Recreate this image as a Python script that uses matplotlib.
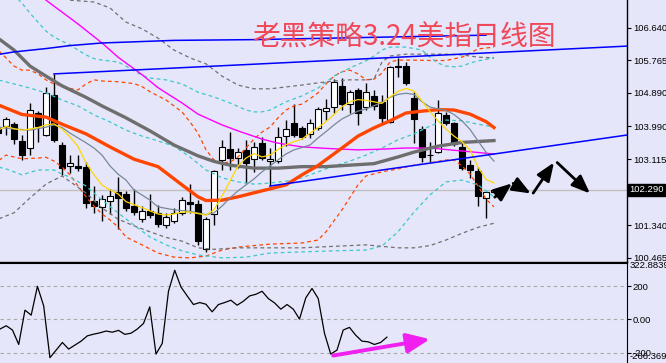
import matplotlib.pyplot as plt
import matplotlib.transforms as mtransforms
import numpy as np

plt.rcParams['font.family'] = ['Liberation Sans', 'DejaVu Sans']

# ---- daily candles, bar index -1 .. 61 ----
bars = np.arange(-1, 62)
opens = [103.97, 104.01, 104.05, 103.60, 103.42, 104.34, 103.76, 104.83, 103.49, 102.94,
         102.93, 102.91, 101.99, 101.82, 102.00, 102.22, 102.17, 101.84, 101.50, 101.72,
         101.67, 101.33, 101.46, 101.67, 101.97, 101.91, 100.69, 101.64, 103.09, 103.38,
         103.13, 103.36, 103.12, 103.54, 103.06, 103.06, 103.74, 104.07, 103.94, 103.78,
         103.94, 104.40, 104.52, 105.08, 104.58, 104.97, 104.52, 104.81, 104.65, 104.12,
         105.61, 105.61, 104.75, 103.92, 103.22, 103.31, 104.30, 104.07, 103.45, 102.95,
         102.79, 102.06, 102.23]
highs = [104.03, 104.25, 104.12, 103.76, 104.63, 104.40, 105.06, 105.40, 103.58, 103.22,
         103.22, 103.04, 102.39, 102.15, 102.31, 102.62, 102.26, 102.30, 101.84, 102.17,
         101.88, 101.66, 101.79, 102.10, 102.44, 102.01, 101.57, 102.82, 103.63, 103.85,
         103.40, 103.63, 103.58, 103.71, 103.40, 103.98, 104.16, 104.58, 104.00, 104.18,
         104.52, 104.72, 105.26, 105.28, 104.97, 105.01, 105.15, 104.97, 104.83, 105.61,
         105.82, 105.73, 104.92, 104.00, 103.58, 104.70, 104.39, 104.12, 103.54, 103.09,
         102.91, 102.24, 102.31]
lows = [103.55, 103.76, 103.51, 103.09, 103.22, 103.56, 103.73, 103.58, 102.69, 102.73,
        102.79, 101.79, 101.67, 101.46, 101.64, 101.23, 101.72, 101.61, 101.43, 101.52,
        101.30, 101.25, 101.39, 101.61, 101.66, 100.81, 100.63, 101.34, 102.82, 102.82,
        102.87, 102.48, 102.77, 103.09, 102.39, 103.02, 103.46, 103.71, 103.64, 103.67,
        103.89, 104.16, 104.34, 104.43, 104.34, 104.03, 104.43, 104.43, 104.09, 104.07,
        105.32, 105.10, 103.55, 103.04, 103.04, 103.28, 104.03, 103.46, 102.82, 102.60,
        101.84, 101.52, 102.20]
closes = [103.81, 104.18, 103.65, 103.22, 104.43, 104.01, 104.88, 103.63, 102.87, 103.00,
          102.88, 101.94, 101.86, 102.03, 102.12, 102.06, 101.79, 101.70, 101.72, 101.61,
          101.37, 101.55, 101.67, 102.01, 101.90, 100.90, 101.50, 102.80, 103.45, 103.13,
          103.30, 103.02, 103.43, 103.13, 103.12, 103.70, 103.91, 103.76, 103.71, 104.07,
          104.45, 104.48, 105.17, 104.58, 104.91, 104.34, 104.91, 104.55, 104.21, 105.59,
          105.58, 105.15, 104.19, 103.18, 103.21, 104.36, 104.07, 103.52, 102.87, 102.82,
          102.13, 102.22, 102.29]
last_price = 102.29

# ---- moving averages ----
ma_yellow = [103.89, 103.99, 103.93, 103.89, 103.92, 103.96, 104.03, 104.06, 103.92, 103.71,
             103.45, 103.01, 102.69, 102.42, 102.28, 102.18, 101.97, 101.89, 101.81, 101.72,
             101.64, 101.61, 101.64, 101.69, 101.69, 101.65, 101.61, 101.75, 102.12, 102.52,
             102.93, 103.14, 103.26, 103.17, 103.22, 103.37, 103.50, 103.58, 103.65, 103.81,
             103.95, 104.12, 104.31, 104.52, 104.65, 104.71, 104.69, 104.65, 104.61, 104.78,
             104.93, 105.01, 104.94, 104.67, 104.39, 104.14, 103.92, 103.73, 103.58, 103.36,
             102.90, 102.57, 102.47]

slate_idx = [-1, 1, 3, 5, 6, 7, 8, 9, 10, 11, 12, 13, 14, 15, 16, 17, 18, 19, 21, 23, 25, 26,
             27, 28, 29, 30, 31, 32, 33, 34, 35, 36, 38, 39, 40, 41, 42, 43, 44, 45, 47, 48,
             49, 50, 51, 52, 53, 54, 55, 56, 57, 58, 59, 60, 61]
ma_slate = [103.97, 103.92, 103.89, 103.97, 104.03, 103.96, 103.81, 103.68, 103.55, 103.41,
            103.22, 102.93, 102.71, 102.55, 102.28, 102.15, 102.01, 101.83, 101.75, 101.71,
            101.62, 101.67, 101.85, 102.07, 102.26, 102.42, 102.58, 102.77, 102.93, 103.09,
            103.25, 103.36, 103.49, 103.68, 103.85, 104.03, 104.19, 104.30, 104.40, 104.46,
            104.63, 104.77, 104.85, 104.88, 104.85, 104.65, 104.51, 104.46, 104.42, 104.31,
            104.14, 103.91, 103.60, 103.30, 103.06]

orange_idx = [-1, 2, 5, 7, 10, 13, 16, 19, 22, 24, 25, 27, 29, 32, 35, 37, 39, 42, 44, 46,
              48, 50, 52, 54, 56, 58, 60, 61]
ma_orange = [104.57, 104.31, 104.24, 104.05, 103.79, 103.44, 103.11, 102.91, 102.42, 102.10,
             102.00, 102.01, 102.10, 102.26, 102.42, 102.69, 102.94, 103.41, 103.73, 103.95,
             104.14, 104.35, 104.40, 104.44, 104.43, 104.32, 104.12, 103.96]

gray_idx = [-1, 1, 3, 5, 7, 10, 12, 15, 18, 21, 24, 26, 28, 31, 34, 37, 40, 43, 46, 49, 51,
            54, 57, 61]
ma_gray = [106.36, 106.04, 105.61, 105.34, 105.08, 104.77, 104.54, 104.22, 103.87, 103.49,
           103.20, 103.05, 102.95, 102.87, 102.87, 102.91, 102.91, 102.95, 102.99, 103.17,
           103.30, 103.46, 103.56, 103.61]

magenta_idx = [4, 5, 9, 12, 14, 17, 19, 22, 24, 27, 29, 32, 34, 37, 40, 44, 47, 50, 53, 56,
               59, 61]
ma_magenta = [107.60, 107.38, 106.74, 106.23, 105.85, 105.38, 105.03, 104.62, 104.32, 104.03,
              103.87, 103.65, 103.54, 103.44, 103.40, 103.36, 103.38, 103.41, 103.41, 103.35,
              103.29, 103.25]

# ---- bands ----
o_up_idx = [-1, 0, 1, 2, 3, 4, 5, 6, 7, 8, 9, 10, 11, 12, 14, 16, 17, 18, 19, 20, 21, 22,
            23, 24, 25, 26, 27, 28, 29, 30, 31, 32, 33, 34, 35, 36, 37, 38, 39, 40, 41, 42,
            43, 44, 45, 46, 47, 48, 49, 51, 53, 55, 57, 58, 59, 61]
band_o_up = [106.04, 105.83, 105.61, 105.50, 105.50, 105.40, 105.24, 105.13, 105.08, 105.01,
             104.97, 105.13, 105.24, 105.21, 105.19, 105.14, 105.06, 104.92, 104.81, 104.70,
             104.54, 104.38, 104.11, 103.81, 103.36, 103.09, 103.01, 103.03, 103.17, 103.41,
             103.65, 103.84, 103.97, 104.22, 104.43, 104.54, 104.59, 104.73, 104.89, 105.13,
             105.34, 105.46, 105.50, 105.40, 105.24, 105.26, 105.42, 105.72, 105.77, 105.77,
             105.76, 105.76, 105.85, 105.96, 106.07, 106.12]
o_lo_idx = [-1, 0, 2, 4, 5, 6, 7, 8, 9, 10, 11, 12, 13, 14, 15, 17, 19, 21, 23, 25, 27, 29,
            33, 37, 39, 40, 42, 44, 45, 47, 49, 51, 53, 55, 56, 57, 58, 59, 60, 61]
band_o_lo = [103.06, 103.22, 103.12, 103.14, 103.16, 103.06, 102.90, 102.69, 102.39, 102.10,
             101.85, 101.64, 101.48, 101.29, 101.02, 100.81, 100.59, 100.48, 100.46, 100.51,
             100.67, 100.75, 100.83, 100.86, 100.94, 101.16, 101.75, 102.42, 102.66, 102.77,
             102.85, 102.95, 103.01, 103.09, 103.09, 102.93, 102.71, 102.39, 102.04, 101.83]

c_up_idx = [1, 2, 3, 4, 5, 6, 7, 8, 9, 10, 11, 12, 14, 15, 17, 18, 20, 22, 24, 26, 28, 30,
            31, 32, 33, 35, 37, 39, 41, 43, 45, 46, 47, 48, 50, 52, 53, 54, 55, 56, 57, 58,
            59, 61]
band_c_up = [107.52, 107.30, 107.03, 106.79, 106.55, 106.39, 106.28, 106.18, 106.04, 105.91,
             105.81, 105.77, 105.72, 105.61, 105.36, 105.29, 105.24, 105.13, 104.91, 104.78,
             104.62, 104.43, 104.38, 104.38, 104.43, 104.65, 104.81, 105.02, 105.34, 105.56,
             105.75, 105.88, 106.04, 106.12, 106.12, 106.04, 105.85, 105.69, 105.61, 105.59,
             105.61, 105.69, 105.75, 105.83]
c_mid_idx = [-1, 1, 3, 5, 7, 9, 11, 13, 15, 17, 19, 21, 23, 25, 27, 29, 31, 33, 35, 37, 39,
             41, 43, 45, 47, 49, 51, 53, 55, 57, 59, 61]
band_c_mid = [105.24, 105.13, 105.02, 104.89, 104.70, 104.54, 104.30, 104.11, 103.89, 103.73,
              103.60, 103.46, 103.17, 102.82, 102.61, 102.50, 102.44, 102.47, 102.52, 102.61,
              102.77, 102.93, 103.06, 103.22, 103.41, 103.63, 103.79, 104.00, 104.16, 104.14,
              104.05, 103.97]
c_lo_idx = [-1, 0, 2, 4, 6, 7, 8, 10, 12, 14, 16, 18, 20, 22, 24, 27, 30, 33, 37, 41, 45,
            47, 49, 51, 53, 55, 57, 59, 61]
band_c_lo = [102.90, 102.85, 102.69, 102.82, 102.82, 102.71, 102.63, 102.39, 102.01, 101.67,
             101.34, 101.02, 100.81, 100.65, 100.54, 100.46, 100.48, 100.59, 100.62, 100.65,
             100.67, 100.78, 101.16, 101.69, 102.15, 102.50, 102.55, 102.42, 102.10]

g_up_idx = [8, 11, 13, 15, 17, 19, 21, 23, 25, 27, 29, 31, 33, 35, 37, 39, 41, 43, 45, 46,
            47, 48, 50, 53, 55, 57, 59, 61]
band_g_up = [107.38, 107.33, 107.17, 106.79, 106.61, 106.36, 106.04, 105.83, 105.67, 105.34,
             105.10, 105.00, 105.00, 105.05, 105.10, 105.16, 105.21, 105.24, 105.24, 105.26,
             105.72, 105.88, 105.93, 105.93, 105.93, 105.91, 105.85, 105.83]
g_lo_idx = [-1, 1, 3, 5, 7, 8, 10, 12, 14, 16, 18, 20, 22, 24, 26, 29, 33, 37, 41, 45, 49,
            51, 53, 55, 57, 59, 61]
band_g_lo = [101.50, 101.67, 102.07, 102.44, 102.66, 102.51, 102.20, 101.80, 101.50, 101.32,
             101.16, 101.01, 100.91, 100.73, 100.69, 100.73, 100.73, 100.73, 100.77, 100.81,
             100.73, 100.73, 100.79, 100.94, 101.12, 101.28, 101.39]

# ---- trend lines (bar index, price) ----
blue_a_idx = [-1, 1, 5, 8, 12, 21, 31, 60]
blue_a = [105.92, 105.99, 106.08, 106.16, 106.23, 106.30, 106.32, 106.44]
blue_b_idx = [6, 78]
blue_b = [105.40, 106.15]
blue_c_idx = [33, 78]
blue_c = [102.39, 103.77]

# forecast arrows: (tail bar, tail price, tip bar, tip price)
arrows = [(61.1, 102.09, 63.25, 102.46),
          (63.4, 102.46, 65.6, 102.19),
          (65.9, 102.20, 68.5, 103.02),
          (68.9, 103.02, 73.0, 102.19)]

price_ticks = [106.640, 105.765, 104.890, 103.990, 103.115, 101.340, 100.465]

# ---- CCI ----
cci = [-58, -38, -64, -151, 56, 26, 200, 82, -231, -185, -139, -179, -155, -131, -99, -89,
       -81, -70, -77, -66, -90, -83, -58, -24, 76, -209, -145, 170, 297, 196, 142, 90, 102,
       92, 46, 90, 102, 116, 86, 110, 142, 152, 170, 126, 100, 62, 90, 62, 2, 130, 187, 126,
       -84, -209, -185, -64, -48, -95, -131, -135, -151, -139, -107]
cci_levels = [200, 0, -200]
cci_arrow = (52.4, -218, 67.9, -119)

bg = '#E6E6FA'
lab = 6.8
fig = plt.figure(figsize=(6.66, 3.63), dpi=100, facecolor=bg)
ax = fig.add_axes([0, 101.5 / 363, 626.7 / 666, 261.5 / 363], facecolor=bg)
ax2 = fig.add_axes([0, 0, 626.7 / 666, 99.7 / 363], facecolor=bg)

# current price line
ax.axhline(last_price, color='#C0C0C0', lw=1, zorder=1)

# candles
opens_a = np.array(opens)
closes_a = np.array(closes)
ax.vlines(bars, lows, highs, color='black', lw=1, zorder=3)
up = closes_a >= opens_a
body_lo = np.minimum(opens_a, closes_a)
body_h = np.abs(closes_a - opens_a)
ax.bar(bars, body_h, bottom=body_lo, width=0.66, color=np.where(up, 'white', 'black'),
       edgecolor='black', lw=0.8, zorder=4)

# bands
dash = (0, (3, 2.5))
ax.plot(o_up_idx, band_o_up, color='#FF4500', lw=0.9, ls=dash, zorder=5)
ax.plot(o_lo_idx, band_o_lo, color='#FF4500', lw=0.9, ls=dash, zorder=5)
ax.plot(c_up_idx, band_c_up, color='#3CC8C8', lw=0.9, ls=dash, zorder=5)
ax.plot(c_mid_idx, band_c_mid, color='#3CC8C8', lw=0.9, ls=dash, zorder=5)
ax.plot(c_lo_idx, band_c_lo, color='#3CC8C8', lw=0.9, ls=dash, zorder=5)
ax.plot(g_up_idx, band_g_up, color='#707070', lw=0.9, ls=dash, zorder=5)
ax.plot(g_lo_idx, band_g_lo, color='#707070', lw=0.9, ls=dash, zorder=5)

# moving averages
ax.plot(magenta_idx, ma_magenta, color='#FF00FF', lw=1.0, zorder=6)
ax.plot(gray_idx, ma_gray, color='#6E6E6E', lw=2.4, zorder=6)
ax.plot(orange_idx, ma_orange, color='#FF4500', lw=2.4, zorder=6)
ax.plot(slate_idx, ma_slate, color='#778899', lw=0.9, zorder=6)
ax.plot(bars, ma_yellow, color='#FFD700', lw=0.9, zorder=6)

# trend lines
for xi, yi in [(blue_a_idx, blue_a), (blue_b_idx, blue_b), (blue_c_idx, blue_c)]:
    ax.plot(xi, yi, color='#0000FF', lw=1.1, zorder=7)

for x0, y0, x1, y1 in arrows:
    ax.annotate('', xy=(x1, y1), xytext=(x0, y0),
                arrowprops=dict(arrowstyle='-|>,head_length=0.55,head_width=0.22',
                                color='black', lw=2, shrinkA=0, shrinkB=0,
                                mutation_scale=20), zorder=8)

ax.text(252 / 626.7, 1 - 37.5 / 261.5, '老黑策略3.24美指日线图', transform=ax.transAxes,
        fontsize=20, color='#F04858', ha='left', va='center',
        family=['Noto Sans CJK SC', 'DejaVu Sans'], zorder=9)

ax.set_xlim(-0.75, 77.59)
ax.set_ylim(100.363, 107.384)
ax.set_xticks([])
ax.yaxis.tick_right()
ax.set_yticks(price_ticks)
ax.set_yticklabels(['%.3f' % t for t in price_ticks])
ax.tick_params(axis='y', length=3, width=0.8, pad=1.5, labelsize=lab, colors='black')
for s in ['left', 'top']:
    ax.spines[s].set_visible(False)
ax.spines['right'].set_linewidth(1)
ax.spines['bottom'].set_linewidth(1)

tr = mtransforms.blended_transform_factory(ax.transAxes, ax.transData)
ax.text(1.0045, last_price, '102.290', transform=tr, fontsize=lab, color='white',
        ha='left', va='center', clip_on=False,
        bbox=dict(boxstyle='square,pad=0.15', fc='black', ec='black'))

# ---- CCI panel ----
for lv in cci_levels:
    ax2.axhline(lv, color='#A8A8A8', lw=0.8, ls=(0, (3, 3)), zorder=1)
ax2.plot(bars, cci, color='black', lw=0.9, zorder=3)
ax2.annotate('', xy=(cci_arrow[2], cci_arrow[3]), xytext=(cci_arrow[0], cci_arrow[1]),
             arrowprops=dict(arrowstyle='-|>,head_length=0.7,head_width=0.3',
                             color='#F020F0', lw=2.8, shrinkA=0, shrinkB=0,
                             mutation_scale=20), zorder=4)
ax2.set_xlim(-1, 99.43)
ax2.set_ylim(-263, 339)
ax2.set_xticks([])
ax2.yaxis.tick_right()
ax2.set_yticks(cci_levels)
ax2.set_yticklabels(['200', '0.00', '-200'])
ax2.tick_params(axis='y', length=3, width=0.8, pad=1.5, labelsize=lab, colors='black')
for s in ['left', 'bottom']:
    ax2.spines[s].set_visible(False)
ax2.text(1.005, 0.973, '322.8839', transform=ax2.transAxes, fontsize=lab,
         ha='left', va='center', clip_on=False)
ax2.text(1.005, 0.07, '-266.369', transform=ax2.transAxes, fontsize=lab,
         ha='left', va='center', clip_on=False)

fig.savefig('out.png', dpi=100, facecolor=bg)
